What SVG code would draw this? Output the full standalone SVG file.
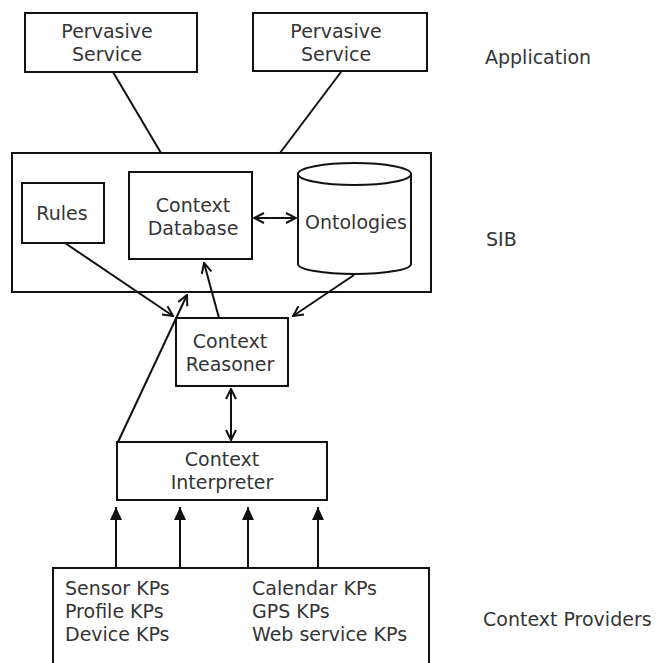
<svg xmlns="http://www.w3.org/2000/svg" width="661" height="663" viewBox="0 0 661 663">
  <style>
    .box { fill: #ffffff; stroke: #111111; stroke-width: 2; }
    .wire { fill: none; stroke: #111111; stroke-width: 2; }
    text { font-family: "DejaVu Sans", Verdana, sans-serif; font-size: 19px; fill: #353535; }
    .c { text-anchor: middle; }
  </style>
  <defs>
    <marker id="open" viewBox="0 0 12 12" refX="11" refY="6" markerWidth="12" markerHeight="12" markerUnits="userSpaceOnUse" orient="auto-start-reverse">
      <path d="M1,1 L11,6 L1,11" fill="none" stroke="#111111" stroke-width="2"/>
    </marker>
    <marker id="tri" viewBox="0 0 14 14" refX="13" refY="7" markerWidth="14" markerHeight="14" markerUnits="userSpaceOnUse" orient="auto">
      <path d="M0,1 L13,7 L0,13 Z" fill="#111111"/>
    </marker>
  </defs>
  <rect width="661" height="663" fill="#ffffff"/>

  <!-- application layer -->
  <g id="service1">
    <rect class="box" x="25" y="13" width="172" height="59"/>
    <text class="c" x="107" y="38">Pervasive</text>
    <text class="c" x="107" y="61">Service</text>
  </g>
  <g id="service2">
    <rect class="box" x="253" y="13" width="174" height="58"/>
    <text class="c" x="336" y="38">Pervasive</text>
    <text class="c" x="336" y="61">Service</text>
  </g>
  <text id="label-application" x="485" y="64">Application</text>

  <!-- SIB container -->
  <g id="sib">
    <rect class="box" x="12" y="153" width="419" height="139"/>
  </g>
  <text id="label-sib" x="486" y="246">SIB</text>

  <g id="rules">
    <rect class="box" x="22" y="183" width="82" height="60"/>
    <text class="c" x="62" y="220">Rules</text>
  </g>
  <g id="context-database">
    <rect class="box" x="129" y="172" width="123" height="87"/>
    <text class="c" x="193" y="212">Context</text>
    <text class="c" x="193" y="235">Database</text>
  </g>
  <g id="ontologies">
    <path class="box" d="M298,174 L298,264 A56.5,10 0 0 0 411,264 L411,174"/>
    <ellipse class="box" cx="354.5" cy="174" rx="56.5" ry="11"/>
    <text class="c" x="356" y="229">Ontologies</text>
  </g>

  <g id="context-reasoner">
    <rect class="box" x="176" y="318" width="112" height="68"/>
    <text class="c" x="230" y="348">Context</text>
    <text class="c" x="230" y="371">Reasoner</text>
  </g>

  <g id="context-interpreter">
    <rect class="box" x="117" y="442" width="210" height="58"/>
    <text class="c" x="222" y="466">Context</text>
    <text class="c" x="222" y="489">Interpreter</text>
  </g>

  <g id="context-providers">
    <rect class="box" x="53" y="568" width="376" height="110"/>
    <text x="65" y="595">Sensor KPs</text>
    <text x="65" y="618">Profile KPs</text>
    <text x="65" y="641">Device KPs</text>
    <text x="252" y="595">Calendar KPs</text>
    <text x="252" y="618">GPS KPs</text>
    <text x="252" y="641">Web service KPs</text>
  </g>
  <text id="label-providers" x="483" y="626">Context Providers</text>

  <!-- connectors -->
  <g id="connectors">
    <line class="wire" x1="113" y1="72" x2="161" y2="153"/>
    <line class="wire" x1="341" y1="72" x2="280" y2="153"/>
    <line class="wire" x1="254" y1="218" x2="296" y2="218" marker-start="url(#open)" marker-end="url(#open)"/>
    <line class="wire" x1="65" y1="243" x2="173" y2="316" marker-end="url(#open)"/>
    <line class="wire" x1="354" y1="275" x2="293" y2="316" marker-end="url(#open)"/>
    <line class="wire" x1="219" y1="318" x2="204" y2="263" marker-end="url(#open)"/>
    <line class="wire" x1="118" y1="442" x2="187" y2="295" marker-end="url(#open)"/>
    <line class="wire" x1="231" y1="389" x2="231" y2="440" marker-start="url(#open)" marker-end="url(#open)"/>
    <line class="wire" x1="116" y1="568" x2="116" y2="507" marker-end="url(#tri)"/>
    <line class="wire" x1="180" y1="568" x2="180" y2="507" marker-end="url(#tri)"/>
    <line class="wire" x1="248" y1="568" x2="248" y2="507" marker-end="url(#tri)"/>
    <line class="wire" x1="318" y1="568" x2="318" y2="507" marker-end="url(#tri)"/>
  </g>
</svg>
